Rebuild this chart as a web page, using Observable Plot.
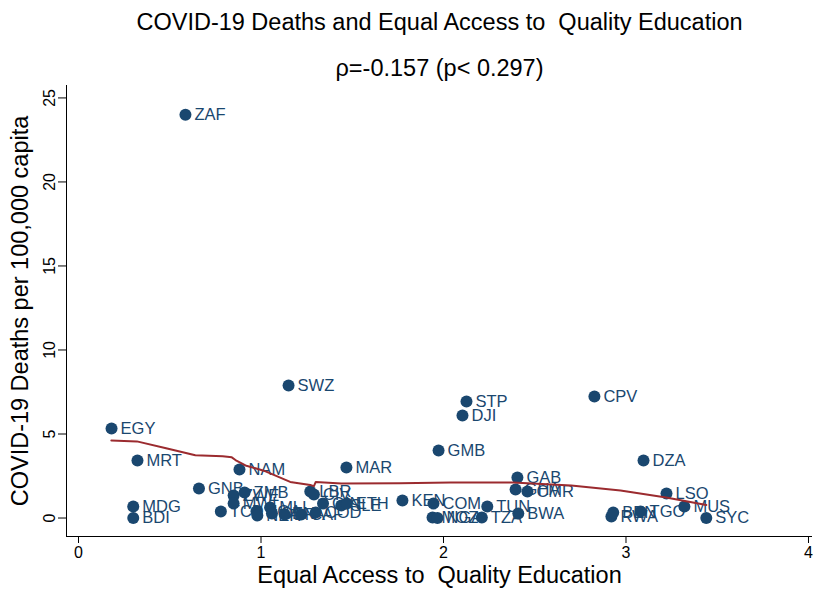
<!DOCTYPE html>
<html>
<head>
<meta charset="utf-8">
<script src="https://cdn.jsdelivr.net/npm/d3@7"></script>
<script src="https://cdn.jsdelivr.net/npm/@observablehq/plot@0.6"></script>
<style>
  html, body { margin: 0; padding: 0; background: #fff; }
  svg text { white-space: pre; }
</style>
</head>
<body>
<div id="chart"></div>
<script>
// Country codes, access-to-education score and COVID-19 deaths per 100,000
const codes = ["ZAF","SWZ","STP","DJI","CPV","EGY","GMB","DZA","MRT","NAM",
  "MAR","GAB","GHA","CMR","LSO","MUS","SYC","KEN","COM","MOZ",
  "NGA","TZA","TUN","BWA","MDG","BDI","GNB","RWA","BEN","TGO",
  "TCD","ZWE","ZMB","MWI","UGA","NER","MLI","SEN","BFA","CAF",
  "COD","LBR","CIV","GIN","SLE","ETH"];
const access = [0.586,1.151,2.126,2.104,2.827,0.181,1.973,3.096,0.323,0.882,
  1.468,2.405,2.395,2.46,3.222,3.32,3.44,1.775,1.945,1.94,
  1.967,2.21,2.24,2.41,0.30,0.30,0.66,2.92,2.93,3.08,
  0.78,0.85,0.91,0.85,0.975,0.98,1.05,1.06,1.13,1.22,
  1.30,1.27,1.29,1.34,1.44,1.47];
const deaths = [24.0,7.89,6.93,6.10,7.23,5.33,4.02,3.42,3.42,2.89,
  3.01,2.41,1.70,1.58,1.46,0.68,0.0,1.04,0.86,0.03,
  0.0,0.03,0.68,0.27,0.68,0.0,1.76,0.09,0.33,0.39,
  0.39,1.34,1.52,0.86,0.39,0.15,0.63,0.27,0.21,0.21,
  0.33,1.58,1.40,0.86,0.74,0.86];

// Lowess smoother through the scatter
const smoothX = [0.18,0.32,0.48,0.64,0.79,0.84,0.86,0.915,1.025,1.16,1.27,1.29,1.30,1.44,1.76,2.04,2.38,2.70,2.97,3.22,3.44];
const smoothY = [4.62,4.56,4.15,3.73,3.67,3.61,3.45,3.13,2.78,2.15,1.96,1.90,2.15,2.05,2.07,2.12,2.12,1.94,1.64,1.22,0.77];

const xTicks = [0,1,2,3,4];
const yTicks = [0,5,10,15,20,25];

const title = "COVID-19 Deaths and Equal Access to  Quality Education";
const subtitle = "ρ=-0.157 (p< 0.297)";
const xTitle = "Equal Access to  Quality Education";
const yTitle = "COVID-19 Deaths per 100,000 capita";

const points = codes.map((c, i) => ({code: c, x: access[i], y: deaths[i]}));
const smooth = smoothX.map((x, i) => ({x, y: smoothY[i]}));

const navy = "#1a476f";
const maroon = "#9b2b2f";
const font = "Liberation Sans, Arial, Helvetica, sans-serif";

const xDomain = [-0.0658, 4.022];
const yDomain = [-1.10, 25.74];

const chart = Plot.plot({
  width: 817,
  height: 592,
  marginLeft: 66,
  marginRight: 5,
  marginTop: 85,
  marginBottom: 56,
  style: {fontFamily: font, background: "#fff", color: "#000", overflow: "visible"},
  x: {domain: xDomain, range: [66, 812]},
  y: {domain: yDomain},
  marks: [
    Plot.ruleX([xDomain[0]], {stroke: "#000", strokeWidth: 1}),
    Plot.ruleY([yDomain[0]], {stroke: "#000", strokeWidth: 1}),
    Plot.axisX({ticks: xTicks, tickSize: 7, tickPadding: 3, fontSize: 16, tickFormat: d => String(d), label: null}),
    Plot.axisY({ticks: yTicks, tickSize: 8, tickPadding: 4, tickRotate: -90, fontSize: 16, tickFormat: d => String(d), label: null}),
    Plot.dot(points, {x: "x", y: "y", r: 6, fill: navy, stroke: "none"}),
    Plot.text(points, {x: "x", y: "y", text: "code", dx: 9, textAnchor: "start", fill: navy, fontSize: 16.5}),
    Plot.line(smooth, {x: "x", y: "y", stroke: maroon, strokeWidth: 2, curve: "linear"}),
    Plot.text([title], {frameAnchor: "top", lineAnchor: "middle", dy: -63, fontSize: 23.5, fill: "#000"}),
    Plot.text([subtitle], {frameAnchor: "top", lineAnchor: "middle", dy: -17, fontSize: 23.5, fill: "#000"}),
    Plot.text([xTitle], {frameAnchor: "bottom", lineAnchor: "middle", dy: 39, fontSize: 23.5, fill: "#000"}),
    Plot.text([yTitle], {frameAnchor: "left", lineAnchor: "middle", textAnchor: "middle", dx: -46, rotate: -90, fontSize: 23.5, fill: "#000"})
  ]
});

document.getElementById("chart").appendChild(chart);
</script>
</body>
</html>
